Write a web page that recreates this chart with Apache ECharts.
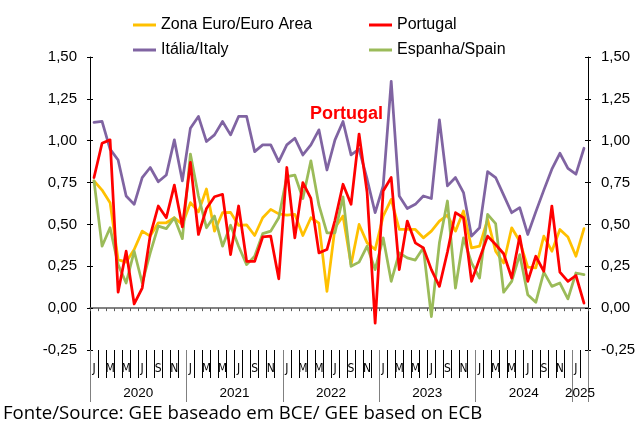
<!DOCTYPE html>
<html>
<head>
<meta charset="utf-8">
<script src="https://cdn.jsdelivr.net/npm/echarts@6/dist/echarts.min.js"></script>
<style>
  html, body { margin: 0; padding: 0; background: #fff; }
  #chart { width: 639px; height: 425px; }
</style>
</head>
<body>
<div id="chart"></div>
<script>
// Jan 2020 -> Fev 2025
const years = ['2020', '2021', '2022', '2023', '2024', '2025']
const monthsInYear = [12, 12, 12, 12, 12, 2]
const monthLetters = ['J', 'F', 'M', 'A', 'M', 'J', 'J', 'A', 'S', 'O', 'N', 'D']
const yMin = -0.25
const yMax = 1.5
const yStep = 0.25

const euroArea = [0.76, 0.705, 0.63, 0.29, 0.275, 0.35, 0.46, 0.43, 0.51, 0.51, 0.54, 0.5,
  0.63, 0.575, 0.712, 0.46, 0.57, 0.572, 0.495, 0.497, 0.434, 0.54, 0.59, 0.563,
  0.555, 0.56, 0.434, 0.54, 0.508, 0.1, 0.48, 0.55, 0.26, 0.5, 0.39, 0.35,
  0.55, 0.65, 0.47, 0.47, 0.47, 0.42, 0.46, 0.52, 0.555, 0.46, 0.58, 0.36,
  0.37, 0.53, 0.34, 0.27, 0.48, 0.4, 0.245, 0.24, 0.43, 0.34, 0.47, 0.425,
  0.31, 0.475]
const portugal = [0.78, 0.985, 1.005, 0.095, 0.34, 0.025, 0.12, 0.435, 0.61, 0.54, 0.735, 0.485,
  0.87, 0.44, 0.595, 0.665, 0.68, 0.32, 0.61, 0.28, 0.28, 0.425, 0.43, 0.175,
  0.84, 0.42, 0.75, 0.655, 0.33, 0.35, 0.525, 0.74, 0.62, 1.04, 0.69, -0.09,
  0.7, 0.78, 0.23, 0.52, 0.39, 0.36, 0.23, 0.13, 0.335, 0.57, 0.54, 0.16,
  0.295, 0.43, 0.38, 0.325, 0.18, 0.43, 0.16, 0.31, 0.22, 0.61, 0.215, 0.16,
  0.195, 0.03]
const italy = [1.11, 1.115, 0.95, 0.885, 0.67, 0.62, 0.78, 0.84, 0.755, 0.795, 1.005, 0.76,
  1.075, 1.145, 0.995, 1.035, 1.115, 1.035, 1.145, 1.145, 0.935, 0.975, 0.975, 0.875,
  0.975, 1.015, 0.915, 0.975, 1.065, 0.825, 1.005, 1.115, 0.915, 0.95, 0.77, 0.57,
  0.73, 1.355, 0.67, 0.595, 0.62, 0.67, 0.655, 1.125, 0.73, 0.78, 0.69, 0.43,
  0.48, 0.815, 0.78, 0.675, 0.57, 0.6, 0.44, 0.575, 0.705, 0.83, 0.925, 0.835,
  0.8, 0.955]
const spain = [0.76, 0.37, 0.48, 0.26, 0.15, 0.34, 0.15, 0.33, 0.49, 0.475, 0.54, 0.415,
  0.92, 0.67, 0.48, 0.55, 0.37, 0.495, 0.37, 0.26, 0.31, 0.445, 0.46, 0.54,
  0.785, 0.795, 0.655, 0.88, 0.615, 0.45, 0.45, 0.665, 0.25, 0.275, 0.37, 0.23,
  0.42, 0.16, 0.33, 0.3, 0.287, 0.36, -0.05, 0.39, 0.64, 0.12, 0.42, 0.27,
  0.18, 0.56, 0.505, 0.095, 0.16, 0.32, 0.08, 0.035, 0.215, 0.13, 0.15, 0.055,
  0.21, 0.2]

// categorias mensais 'AAAA-MM'
const categories = []
years.forEach((y, k) => {
  for (let m = 0; m < monthsInYear[k]; m++) {
    categories.push(y + '-' + String(m + 1).padStart(2, '0'))
  }
})

const fmt = v => v.toFixed(2).replace('.', ',')
const txt = '#000'
const font = '"Liberation Sans", Arial, sans-serif'

const lineSeries = (name, data, color) => ({
  name: name,
  type: 'line',
  data: data,
  symbol: 'none',
  showSymbol: false,
  smooth: false,
  itemStyle: { color: color },
  lineStyle: { color: color, width: 2.75, join: 'round', cap: 'round' }
})

const valueAxis = (pos, labels, inside) => ({
  type: 'value',
  position: pos,
  min: yMin,
  max: yMax,
  interval: yStep,
  splitLine: { show: false },
  axisLine: { show: !inside, lineStyle: { color: '#000', width: 1 } },
  axisTick: { show: true, inside: inside, length: 3, lineStyle: { color: '#000' } },
  axisLabel: {
    show: labels,
    formatter: fmt,
    color: txt,
    fontSize: 15,
    fontFamily: font,
    margin: 13
  }
})

const legendBox = (names, left) => ({
  data: names,
  orient: 'vertical',
  left: left,
  top: 11,
  icon: 'rect',
  itemWidth: 23,
  itemHeight: 3,
  itemGap: 7,
  textStyle: { color: txt, fontSize: 16, fontFamily: font, lineHeight: 18 }
})

const chart = echarts.init(document.getElementById('chart'))
chart.setOption({
  animation: false,
  backgroundColor: '#fff',
  grid: { left: 90, right: 51, top: 57, bottom: 75, containLabel: false },
  legend: [
    legendBox(['Zona Euro/Euro Area', 'Itália/Italy'], 128),
    legendBox(['Portugal', 'Espanha/Spain'], 364)
  ],
  xAxis: [
    {
      // eixo no zero
      type: 'category',
      data: categories,
      position: 'bottom',
      boundaryGap: true,
      axisLine: { onZero: true, onZeroAxisIndex: 0, lineStyle: { color: '#595959', width: 1.5 } },
      axisTick: { show: true, interval: 0, length: 3, lineStyle: { color: '#595959' } },
      axisLabel: { show: false }
    },
    {
      // meses
      type: 'category',
      data: categories,
      position: 'bottom',
      offset: 0,
      boundaryGap: true,
      axisLine: { show: false, onZero: false },
      axisTick: { show: true, interval: 0, length: 28, lineStyle: { color: '#000' } },
      axisLabel: {
        interval: (i) => i % 2 === 0,
        formatter: (v) => monthLetters[parseInt(v.split('-')[1], 10) - 1],
        color: txt,
        fontSize: 12,
        fontFamily: '"Liberation Sans Narrow", "DejaVu Sans Condensed", sans-serif',
        margin: 13
      }
    },
    {
      // anos
      type: 'category',
      data: categories,
      position: 'bottom',
      offset: 0,
      boundaryGap: true,
      axisLine: { show: false, onZero: false },
      axisTick: { show: true, interval: (i) => i % 12 === 0, length: 52, lineStyle: { color: '#808080' } },
      axisLabel: {
        interval: (i) => i % 12 === 5 || i === 60,
        formatter: (v) => v.slice(0, 4),
        color: txt,
        fontSize: 13.5,
        fontFamily: font,
        padding: [0, 0, 0, 8],
        margin: 36
      }
    }
  ],
  yAxis: [
    valueAxis('left', true, false),
    valueAxis('right', true, false),
    valueAxis('left', false, true),
    valueAxis('right', false, true)
  ],
  series: [
    lineSeries('Zona Euro/Euro Area', euroArea, '#FFC000'),
    lineSeries('Itália/Italy', italy, '#8064A2'),
    lineSeries('Espanha/Spain', spain, '#9BBB59'),
    lineSeries('Portugal', portugal, '#FF0000')
  ],
  graphic: [
    {
      type: 'text',
      left: 310,
      top: 105,
      style: { text: 'Portugal', fill: '#FF0000', font: 'bold 18px "Liberation Sans", Arial, sans-serif' }
    },
    {
      type: 'text',
      left: 3,
      top: 404,
      style: { text: 'Fonte/Source: GEE baseado em BCE/ GEE based on ECB', fill: '#000', font: '18.6px "Open Sans", sans-serif' }
    }
  ]
})
</script>
</body>
</html>
